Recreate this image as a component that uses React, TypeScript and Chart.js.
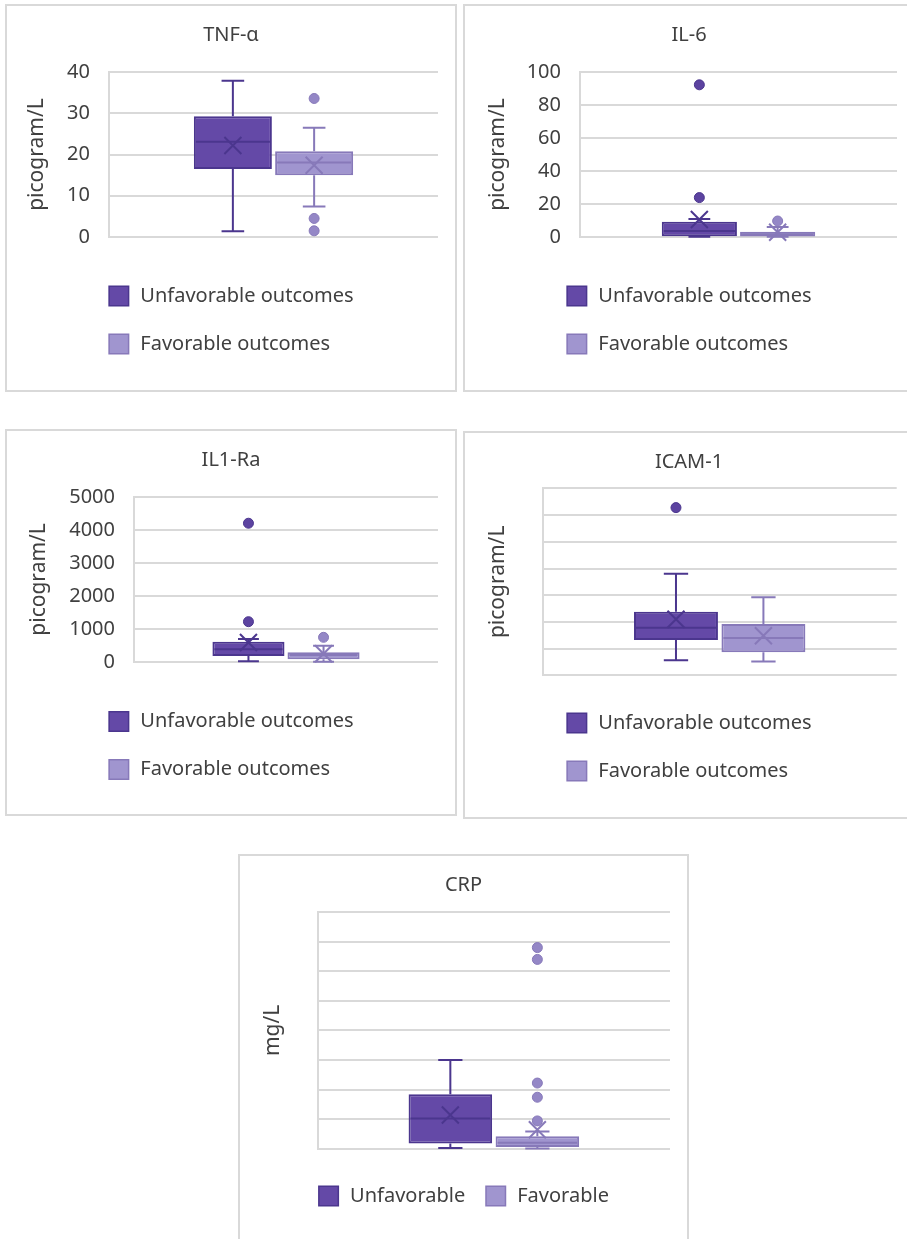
import React, { useEffect, useRef } from "react";
import { Chart, registerables } from "chart.js";

Chart.register(...registerables);

// ---------- data ----------
const seriesNames = ["Unfavorable outcomes", "Favorable outcomes"];
const seriesShortNames = ["Unfavorable", "Favorable"];

// five-number summaries: [min whisker, Q1, median, Q3, max whisker]
const tnfUnfavorable = [1.4, 16.5, 23.1, 29.3, 37.9];
const tnfFavorable = [7.4, 15.0, 18.1, 20.8, 26.5];
const tnfMeans = [22.2, 17.4];
const tnfUnfavorableOutliers: number[] = [];
const tnfFavorableOutliers = [33.6, 4.5, 1.5];
const tnfTicks = [0, 40, 10];

const il6Unfavorable = [0.2, 0.4, 3.6, 9.3, 10.9];
const il6Favorable = [0.1, 0.3, 1.6, 3.2, 6.1];
const il6Means = [10.6, 2.9];
const il6UnfavorableOutliers = [92.3, 23.9];
const il6FavorableOutliers = [9.7];
const il6Ticks = [0, 100, 20];

const il1raUnfavorable = [20, 181, 384, 614, 696];
const il1raFavorable = [10, 82, 212, 293, 494];
const il1raMeans = [592, 250];
const il1raUnfavorableOutliers = [4200, 1220];
const il1raFavorableOutliers = [747];
const il1raTicks = [0, 5000, 1000];

const icamUnfavorable = [28, 66, 89, 119, 190];
const icamFavorable = [26, 43, 70, 96, 146];
const icamMeans = [105, 74];
const icamUnfavorableOutliers = [314];
const icamFavorableOutliers: number[] = [];
const icamTicks = [0, 350, 50];

const crpUnfavorable = [0.1, 0.9, 5.1, 9.2, 15.0];
const crpFavorable = [0.05, 0.3, 1.0, 2.1, 2.9];
const crpMeans = [5.7, 3.2];
const crpUnfavorableOutliers: number[] = [];
const crpFavorableOutliers = [34.0, 32.0, 11.1, 8.7, 4.7];
const crpTicks = [0, 40, 5];

// ---------- style ----------
const FONT = "'Noto Sans', 'Open Sans', sans-serif";
const TEXT = "#404040";
const GRID = "#d9d9d9";
const UNF_FILL = "#6449a7";
const UNF_LINE = "#4b368e";
const UNF_DOT = "#5c43a0";
const FAV_FILL = "#a095cf";
const FAV_LINE = "#8779b9";
const FAV_DOT = "#9487c6";

type PanelCfg = {
  title: string;
  yTitle: string;
  showTicks: boolean;
  ticks: number[];
  unf: number[];
  fav: number[];
  means: number[];
  unfOut: number[];
  favOut: number[];
  box: { left: number; top: number; width: number; height: number };
  chartLeft: number;
  padRight: number;
  padBottom: number;
  titleBottom: number;
  yTitlePad: number;
  legendY: number;
  horizontalLegend: boolean;
  legendNames: string[];
};

const panels: PanelCfg[] = [
  {
    title: "TNF-α", yTitle: "picogram/L", showTicks: true, ticks: tnfTicks,
    unf: tnfUnfavorable, fav: tnfFavorable, means: tnfMeans,
    unfOut: tnfUnfavorableOutliers, favOut: tnfFavorableOutliers,
    box: { left: 5, top: 4, width: 452, height: 388 },
    chartLeft: 102, padRight: 17, padBottom: 153, titleBottom: 24.6, yTitlePad: 17.4,
    legendY: 290, horizontalLegend: false, legendNames: seriesNames,
  },
  {
    title: "IL-6", yTitle: "picogram/L", showTicks: true, ticks: il6Ticks,
    unf: il6Unfavorable, fav: il6Favorable, means: il6Means,
    unfOut: il6UnfavorableOutliers, favOut: il6FavorableOutliers,
    box: { left: 463, top: 4, width: 452, height: 388 },
    chartLeft: 115, padRight: 16, padBottom: 153, titleBottom: 24.6, yTitlePad: 20.4,
    legendY: 290, horizontalLegend: false, legendNames: seriesNames,
  },
  {
    title: "IL1-Ra", yTitle: "picogram/L", showTicks: true, ticks: il1raTicks,
    unf: il1raUnfavorable, fav: il1raFavorable, means: il1raMeans,
    unfOut: il1raUnfavorableOutliers, favOut: il1raFavorableOutliers,
    box: { left: 5, top: 429, width: 452, height: 387 },
    chartLeft: 127, padRight: 17, padBottom: 152, titleBottom: 24.3, yTitlePad: 19.4,
    legendY: 290.5, horizontalLegend: false, legendNames: seriesNames,
  },
  {
    title: "ICAM-1", yTitle: "picogram/L", showTicks: false, ticks: icamTicks,
    unf: icamUnfavorable, fav: icamFavorable, means: icamMeans,
    unfOut: icamUnfavorableOutliers, favOut: icamFavorableOutliers,
    box: { left: 463, top: 431, width: 452, height: 388 },
    chartLeft: 77.7, padRight: 16.3, padBottom: 141.7, titleBottom: 13.9, yTitlePad: 20.4,
    legendY: 290, horizontalLegend: false, legendNames: seriesNames,
  },
  {
    title: "CRP", yTitle: "mg/L", showTicks: false, ticks: crpTicks,
    unf: crpUnfavorable, fav: crpFavorable, means: crpMeans,
    unfOut: crpUnfavorableOutliers, favOut: crpFavorableOutliers,
    box: { left: 238, top: 854, width: 451, height: 420 },
    chartLeft: 77.7, padRight: 17, padBottom: 123.3, titleBottom: 14.6, yTitlePad: 20.4,
    legendY: 340, horizontalLegend: true, legendNames: seriesShortNames,
  },
];

// ---------- plugins ----------
const boxExtras = {
  id: "boxExtras",
  afterDatasetsDraw(chart: any) {
    const ctx = chart.ctx;
    const y = chart.scales.y;
    ctx.save();
    chart.data.datasets.forEach((ds: any, i: number) => {
      const meta = chart.getDatasetMeta(i);
      const bar = meta.data[0];
      if (!bar) return;
      const x = bar.x;
      const w = bar.width;
      const st = ds.stats;
      const [mn, q1, med, q3, mx] = st.five;
      const py = (v: number) => y.getPixelForValue(v);
      const cap = w * 0.29;
      ctx.strokeStyle = st.line;
      ctx.lineWidth = 2;
      ctx.lineCap = "butt";
      ctx.beginPath();
      ctx.moveTo(x, py(q3));
      ctx.lineTo(x, py(mx));
      ctx.moveTo(x - cap / 2, py(mx));
      ctx.lineTo(x + cap / 2, py(mx));
      ctx.moveTo(x, py(q1));
      ctx.lineTo(x, py(mn));
      ctx.moveTo(x - cap / 2, py(mn));
      ctx.lineTo(x + cap / 2, py(mn));
      // median
      ctx.moveTo(x - w / 2 + 2, py(med));
      ctx.lineTo(x + w / 2 - 2, py(med));
      ctx.stroke();
      // mean X
      const my = py(st.mean);
      const h = 8.5;
      ctx.beginPath();
      ctx.moveTo(x - h, my - h);
      ctx.lineTo(x + h, my + h);
      ctx.moveTo(x - h, my + h);
      ctx.lineTo(x + h, my - h);
      ctx.stroke();
      // outliers
      st.outliers.forEach((v: number) => {
        ctx.beginPath();
        ctx.arc(x, py(v), 5, 0, Math.PI * 2);
        ctx.fillStyle = st.dot;
        ctx.fill();
        ctx.lineWidth = 1;
        ctx.strokeStyle = st.line;
        ctx.stroke();
        ctx.lineWidth = 2;
      });
    });
    ctx.restore();
  },
};

const panelLegend = {
  id: "panelLegend",
  afterDraw(chart: any, _args: any, opts: any) {
    const ctx = chart.ctx;
    const items = chart.data.datasets.map((ds: any, i: number) => ({
      text: opts.names[i],
      fill: ds.backgroundColor,
      line: ds.borderColor,
    }));
    ctx.save();
    ctx.font = `20px ${FONT}`;
    ctx.textBaseline = "middle";
    ctx.textAlign = "left";
    const sq = 21;
    const gap = 11;
    const widths = items.map((it: any) => ctx.measureText(it.text).width);
    const drawItem = (it: any, x: number, yc: number) => {
      ctx.fillStyle = it.line;
      ctx.fillRect(x, yc - sq / 2, sq, sq);
      ctx.fillStyle = it.fill;
      ctx.fillRect(x + 1.5, yc - sq / 2 + 1.5, sq - 3, sq - 3);
      ctx.fillStyle = TEXT;
      ctx.fillText(it.text, x + sq + gap, yc);
    };
    if (opts.horizontal) {
      const itemGap = 20;
      const total =
        widths.reduce((a: number, b: number) => a + b + sq + gap, 0) + itemGap * (items.length - 1);
      let x = chart.width / 2 - total / 2;
      items.forEach((it: any, i: number) => {
        drawItem(it, x, opts.y);
        x += sq + gap + widths[i] + itemGap;
      });
    } else {
      const block = sq + gap + Math.max(...widths);
      const x0 = chart.width / 2 - block / 2;
      items.forEach((it: any, i: number) => drawItem(it, x0, opts.y + i * 48));
    }
    ctx.restore();
  },
};

function buildConfig(p: PanelCfg): any {
  const [tMin, tMax, tStep] = p.ticks;
  const mk = (label: string, five: number[], mean: number, outliers: number[], fill: string, line: string, dot: string) => ({
    label,
    data: [[five[1], five[3]]],
    backgroundColor: fill,
    borderColor: line,
    borderWidth: 2,
    borderSkipped: false,
    categoryPercentage: 0.494,
    barPercentage: 0.96,
    stats: { five, mean, outliers, line, dot },
  });
  return {
    type: "bar",
    data: {
      labels: [""],
      datasets: [
        mk(seriesNames[0], p.unf, p.means[0], p.unfOut, UNF_FILL, UNF_LINE, UNF_DOT),
        mk(seriesNames[1], p.fav, p.means[1], p.favOut, FAV_FILL, FAV_LINE, FAV_DOT),
      ],
    },
    options: {
      animation: false,
      responsive: false,
      maintainAspectRatio: false,
      events: [],
      layout: { padding: { left: 0, top: 0, right: 0, bottom: p.padBottom } },
      scales: {
        x: { display: false },
        y: {
          min: tMin,
          max: tMax,
          ticks: {
            stepSize: tStep,
            display: p.showTicks,
            padding: 19,
            color: TEXT,
            font: { family: FONT, size: 20 },
            callback: (v: any) => String(v),
          },
          grid: { color: GRID, lineWidth: 2, drawTicks: false },
          border: { display: true, color: GRID, width: 2 },
          title: {
            display: true,
            text: p.yTitle,
            color: TEXT,
            font: { family: FONT, size: 21 },
            padding: { top: p.yTitlePad, bottom: 0 },
          },
          afterFit: (s: any) => {
            s.width = p.chartLeft;
          },
        },
        yRight: {
          position: "right",
          display: true,
          min: 0,
          max: 1,
          grid: { display: false, drawTicks: false },
          border: { display: false },
          ticks: { display: false },
          afterFit: (s: any) => {
            s.width = p.padRight;
          },
        },
      },
      plugins: {
        legend: { display: false },
        tooltip: { enabled: false },
        title: {
          display: true,
          text: p.title,
          color: TEXT,
          font: { family: FONT, size: 20, weight: "normal", lineHeight: 1.2 },
          padding: { top: 17.5, bottom: p.titleBottom },
        },
        panelLegend: { names: p.legendNames, y: p.legendY, horizontal: p.horizontalLegend },
      },
    },
    plugins: [boxExtras, panelLegend],
  };
}

function Panel({ cfg }: { cfg: PanelCfg }) {
  const ref = useRef<HTMLCanvasElement>(null);
  const w = cfg.box.width - 4;
  const h = cfg.box.height - 4;
  useEffect(() => {
    const chart = new Chart(ref.current as HTMLCanvasElement, buildConfig(cfg));
    return () => chart.destroy();
  }, [cfg]);
  return (
    <div
      style={{
        position: "absolute",
        left: cfg.box.left,
        top: cfg.box.top,
        width: cfg.box.width,
        height: cfg.box.height,
        border: `2px solid ${GRID}`,
        boxSizing: "border-box",
        background: "#fff",
      }}
    >
      <canvas
        ref={ref}
        width={w}
        height={h}
        style={{ position: "absolute", left: 0, top: 0, width: w, height: h, display: "block" }}
      />
    </div>
  );
}

export default function App() {
  return (
    <div
      style={{
        position: "absolute",
        left: 0,
        top: 0,
        width: 907,
        height: 1239,
        overflow: "hidden",
        background: "#fff",
      }}
    >
      {panels.map((p) => (
        <Panel key={p.title} cfg={p} />
      ))}
    </div>
  );
}
